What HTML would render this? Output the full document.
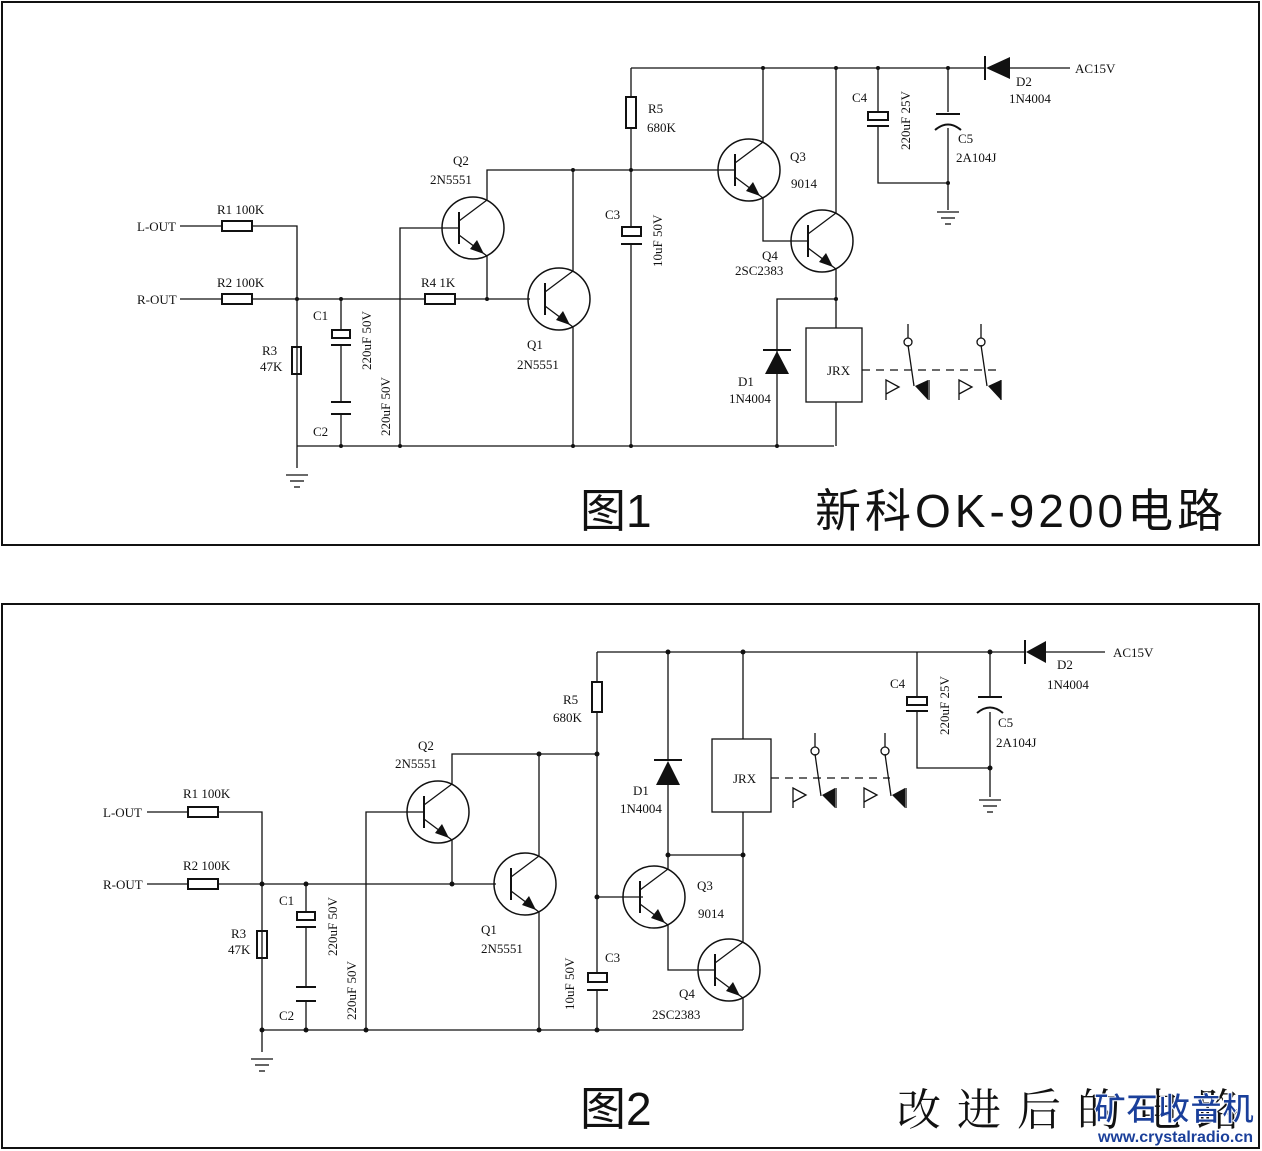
<!DOCTYPE html>
<html><head><meta charset="utf-8"><style>
html,body{margin:0;padding:0;background:#fff}
svg{display:block}
text{font-family:"Liberation Serif","Noto Serif CJK SC",serif;font-size:13px;fill:#111}
.big{font-family:"Liberation Sans","Noto Sans CJK SC",sans-serif;font-size:46px;fill:#111}
</style></head><body>
<svg width="1262" height="1151" viewBox="0 0 1262 1151" xmlns="http://www.w3.org/2000/svg">
<defs>
<g id="npn">
<circle cx="0" cy="0" r="31" fill="none" stroke="#111" stroke-width="1.5"/>
<line x1="-14" y1="-16" x2="-14" y2="16" stroke="#111" stroke-width="2"/>
<line x1="-14" y1="-7" x2="14" y2="-28" stroke="#111" stroke-width="1.3"/>
<line x1="-14" y1="7" x2="14" y2="28" stroke="#111" stroke-width="1.3"/>
<polygon points="11,26 -3,21 4,12" fill="#111"/>
</g>
<g id="gnd" stroke="#111" stroke-width="1.3">
<line x1="-11" y1="0" x2="11" y2="0"/><line x1="-7" y1="6" x2="7" y2="6"/><line x1="-3" y1="12" x2="3" y2="12"/>
</g>
</defs>
<g fill="none" stroke="#111" stroke-width="2">
<rect x="2" y="2" width="1257" height="543"/>
<rect x="2" y="604" width="1257" height="544"/>
</g>

<!-- ============ DIAGRAM 1 ============ -->
<g stroke="#111" stroke-width="1.3" fill="none">
<path d="M180 226H222M252 226H297V446"/>
<rect x="222" y="221" width="30" height="10" stroke-width="2"/>
<path d="M180 299H222M252 299H425M455 299H530"/>
<rect x="222" y="294" width="30" height="10" stroke-width="2"/>
<rect x="425" y="294" width="30" height="10" stroke-width="2"/>
<rect x="292" y="347" width="9" height="27" stroke-width="2"/>
<path d="M297 446V468"/>
<path d="M341 299V330M341 345V402M341 414V446"/>
<rect x="332" y="330" width="18" height="8" stroke-width="2"/>
<line x1="331" y1="345" x2="351" y2="345" stroke-width="2"/>
<line x1="331" y1="402" x2="351" y2="402" stroke-width="2"/>
<line x1="331" y1="414" x2="351" y2="414" stroke-width="2"/>
<path d="M459 228H400V446"/>
<path d="M297 446H834"/>
<path d="M487 200V170H720M487 256V299M573 271V170M573 327V446"/>
<path d="M631 68V97M631 128V227M631 244V446"/>
<rect x="626" y="97" width="10" height="31" stroke-width="2"/>
<rect x="622" y="227" width="19" height="9" stroke-width="2"/>
<line x1="621" y1="244" x2="642" y2="244" stroke-width="2"/>
<path d="M631 68H985M1010 68H1070"/>
<path d="M720 170H735M763 142V68M763 198V241H808M836 213V68M836 269V328M836 402V446"/>
<path d="M836 299H777V446"/>
<rect x="806" y="328" width="56" height="74"/>
<line x1="763" y1="350" x2="791" y2="350" stroke-width="2"/>
<path d="M862 370H1000" stroke-dasharray="8,6"/>
<path d="M908 324V338M908 345L914 386M981 324V338M981 345L987 386"/>
<circle cx="908" cy="342" r="4"/><circle cx="981" cy="342" r="4"/>
<path d="M886 400V380L899 387L886 394M959 400V380L972 387L959 394"/>
<path d="M929 400V380M1001 400V380"/>
<path d="M878 68V112M878 126V183H948V210M948 68V112M948 128V183"/>
<rect x="868" y="112" width="20" height="8" stroke-width="2"/>
<line x1="867" y1="126" x2="889" y2="126" stroke-width="2"/>
<line x1="936" y1="114" x2="960" y2="114" stroke-width="2"/>
<path d="M935 130Q948 119 961 130" stroke-width="2"/>
<line x1="985" y1="56" x2="985" y2="80" stroke-width="2"/>
</g>
<polygon points="986,68 1010,57 1010,79" fill="#111"/>
<polygon points="777,351 765,374 789,374" fill="#111"/>
<polygon points="915,386 928,380 928,400" fill="#111"/>
<polygon points="988,386 1001,380 1001,400" fill="#111"/>
<use href="#gnd" x="297" y="475"/>
<use href="#gnd" x="948" y="212"/>
<use href="#npn" x="473" y="228"/>
<use href="#npn" x="559" y="299"/>
<use href="#npn" x="749" y="170"/>
<use href="#npn" x="822" y="241"/>
<g fill="#111">
<circle cx="297" cy="299" r="2"/><circle cx="341" cy="299" r="2"/><circle cx="487" cy="299" r="2"/>
<circle cx="573" cy="170" r="2"/><circle cx="631" cy="170" r="2"/><circle cx="573" cy="446" r="2"/>
<circle cx="631" cy="446" r="2"/><circle cx="777" cy="446" r="2"/><circle cx="341" cy="446" r="2"/>
<circle cx="400" cy="446" r="2"/><circle cx="836" cy="299" r="2"/><circle cx="763" cy="68" r="2"/>
<circle cx="836" cy="68" r="2"/><circle cx="878" cy="68" r="2"/><circle cx="948" cy="68" r="2"/><circle cx="948" cy="183" r="2"/>
</g>
<text x="137" y="231">L-OUT</text><text x="137" y="304">R-OUT</text>
<text x="217" y="214">R1  100K</text><text x="217" y="287">R2  100K</text>
<text x="262" y="355">R3</text><text x="260" y="371">47K</text>
<text x="313" y="320">C1</text><text x="313" y="436">C2</text>
<text transform="translate(371,370) rotate(-90)">220uF 50V</text>
<text transform="translate(390,436) rotate(-90)">220uF 50V</text>
<text x="421" y="287">R4  1K</text>
<text x="453" y="165">Q2</text><text x="430" y="184">2N5551</text>
<text x="527" y="349">Q1</text><text x="517" y="369">2N5551</text>
<text x="648" y="113">R5</text><text x="647" y="132">680K</text>
<text x="605" y="219">C3</text>
<text transform="translate(662,267) rotate(-90)">10uF 50V</text>
<text x="790" y="161">Q3</text><text x="791" y="188">9014</text>
<text x="762" y="260">Q4</text><text x="735" y="275">2SC2383</text>
<text x="738" y="386">D1</text><text x="729" y="403">1N4004</text>
<text x="827" y="375">JRX</text>
<text x="852" y="102">C4</text>
<text transform="translate(910,150) rotate(-90)">220uF 25V</text>
<text x="958" y="143">C5</text><text x="956" y="162">2A104J</text>
<text x="1016" y="86">D2</text><text x="1009" y="103">1N4004</text>
<text x="1075" y="73">AC15V</text>
<text class="big" x="580" y="527">图1</text>
<text class="big" x="815" y="527" style="letter-spacing:4px">新科OK-9200电路</text>

<!-- ============ DIAGRAM 2 ============ -->
<g stroke="#111" stroke-width="1.3" fill="none">
<path d="M147 812H188M218 812H262V1030"/>
<rect x="188" y="807" width="30" height="10" stroke-width="2"/>
<path d="M147 884H188M218 884H496"/>
<rect x="188" y="879" width="30" height="10" stroke-width="2"/>
<rect x="257" y="931" width="10" height="27" stroke-width="2"/>
<path d="M262 1030V1052"/>
<path d="M306 884V912M306 927V987M306 1001V1030"/>
<rect x="297" y="912" width="18" height="8" stroke-width="2"/>
<line x1="296" y1="927" x2="316" y2="927" stroke-width="2"/>
<line x1="296" y1="987" x2="316" y2="987" stroke-width="2"/>
<line x1="296" y1="1001" x2="316" y2="1001" stroke-width="2"/>
<path d="M424 812H366V1030"/>
<path d="M262 1030H743"/>
<path d="M452 784V754H597M452 840V884M539 856V754M539 912V1030"/>
<path d="M597 652V682M597 712V973M597 990V1030M597 897H643"/>
<rect x="592" y="682" width="10" height="30" stroke-width="2"/>
<rect x="588" y="973" width="19" height="9" stroke-width="2"/>
<line x1="587" y1="990" x2="608" y2="990" stroke-width="2"/>
<path d="M597 652H1025M1045 652H1105"/>
<path d="M668 652V760M668 785V855H743M743 652V739M743 812V942M668 869V855M668 925V970H715M743 998V1030"/>
<rect x="712" y="739" width="59" height="73"/>
<line x1="654" y1="760" x2="682" y2="760" stroke-width="2"/>
<path d="M771 778H890" stroke-dasharray="8,6"/>
<path d="M815 733V747M815 754L821 796M885 733V747M885 754L891 796"/>
<circle cx="815" cy="751" r="4"/><circle cx="885" cy="751" r="4"/>
<path d="M793 808V788L806 795L793 802M864 808V788L877 795L864 802"/>
<path d="M836 808V788M906 808V788"/>
<path d="M917 652V697M917 711V768H990V797M990 652V696M990 712V768"/>
<rect x="907" y="697" width="20" height="8" stroke-width="2"/>
<line x1="906" y1="711" x2="928" y2="711" stroke-width="2"/>
<line x1="978" y1="697" x2="1002" y2="697" stroke-width="2"/>
<path d="M977 713Q990 702 1003 713" stroke-width="2"/>
<line x1="1025" y1="640" x2="1025" y2="664" stroke-width="2"/>
</g>
<polygon points="1026,652 1046,641 1046,663" fill="#111"/>
<polygon points="668,761 656,785 680,785" fill="#111"/>
<polygon points="822,795 835,788 835,808" fill="#111"/>
<polygon points="892,795 905,788 905,808" fill="#111"/>
<use href="#gnd" x="262" y="1059"/>
<use href="#gnd" x="990" y="800"/>
<use href="#npn" x="438" y="812"/>
<use href="#npn" x="525" y="884"/>
<use href="#npn" x="654" y="897"/>
<use href="#npn" x="729" y="970"/>
<g fill="#111">
<circle cx="262" cy="884" r="2.5"/><circle cx="306" cy="884" r="2.5"/><circle cx="452" cy="884" r="2.5"/>
<circle cx="539" cy="754" r="2.5"/><circle cx="597" cy="754" r="2.5"/><circle cx="597" cy="897" r="2.5"/>
<circle cx="668" cy="652" r="2.5"/><circle cx="743" cy="652" r="2.5"/><circle cx="668" cy="855" r="2.5"/>
<circle cx="743" cy="855" r="2.5"/><circle cx="306" cy="1030" r="2.5"/><circle cx="366" cy="1030" r="2.5"/>
<circle cx="539" cy="1030" r="2.5"/><circle cx="597" cy="1030" r="2.5"/><circle cx="262" cy="1030" r="2.5"/>
<circle cx="990" cy="652" r="2.5"/><circle cx="990" cy="768" r="2.5"/>
</g>
<text x="103" y="817">L-OUT</text><text x="103" y="889">R-OUT</text>
<text x="183" y="798">R1  100K</text><text x="183" y="870">R2  100K</text>
<text x="231" y="938">R3</text><text x="228" y="954">47K</text>
<text x="279" y="905">C1</text><text x="279" y="1020">C2</text>
<text transform="translate(337,956) rotate(-90)">220uF 50V</text>
<text transform="translate(356,1020) rotate(-90)">220uF 50V</text>
<text x="418" y="750">Q2</text><text x="395" y="768">2N5551</text>
<text x="481" y="934">Q1</text><text x="481" y="953">2N5551</text>
<text x="563" y="704">R5</text><text x="553" y="722">680K</text>
<text x="633" y="795">D1</text><text x="620" y="813">1N4004</text>
<text x="733" y="783">JRX</text>
<text x="605" y="962">C3</text>
<text transform="translate(574,1010) rotate(-90)">10uF 50V</text>
<text x="697" y="890">Q3</text><text x="698" y="918">9014</text>
<text x="679" y="998">Q4</text><text x="652" y="1019">2SC2383</text>
<text x="890" y="688">C4</text>
<text transform="translate(949,735) rotate(-90)">220uF 25V</text>
<text x="998" y="727">C5</text><text x="996" y="747">2A104J</text>
<text x="1057" y="669">D2</text><text x="1047" y="689">1N4004</text>
<text x="1113" y="657">AC15V</text>
<text class="big" x="580" y="1125">图2</text>
<text class="big" x="897" y="1125" style="font-family:'Noto Serif CJK SC',serif;font-size:44px;letter-spacing:16px">改进后的电路</text>
<text x="1094" y="1120" style="font-family:'Noto Sans CJK SC',sans-serif;font-size:32px;font-weight:bold;fill:#1a3f9a;stroke:#fff;stroke-width:1">矿石收音机</text>
<text x="1098" y="1142" style="font-family:'Liberation Sans',sans-serif;font-size:16px;font-weight:bold;fill:#1a3f9a">www.crystalradio.cn</text>
</svg>
</body></html>
